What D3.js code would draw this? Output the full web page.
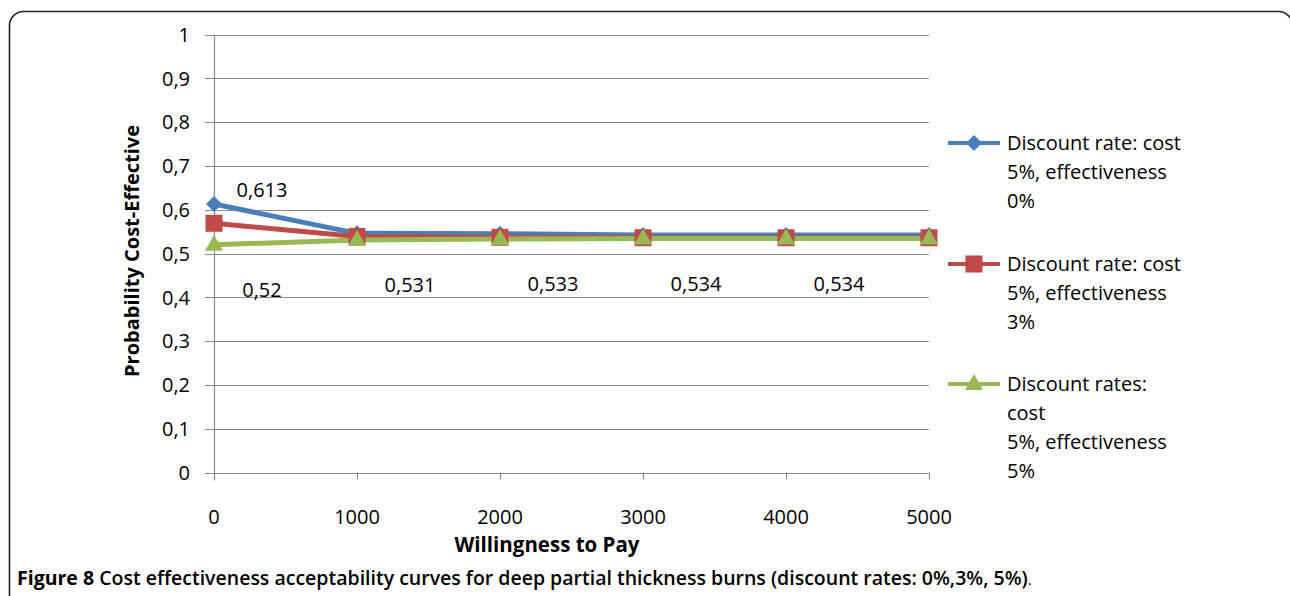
<!DOCTYPE html>
<html>
<head>
<meta charset="utf-8">
<script src="https://cdn.jsdelivr.net/npm/d3@7"></script>
<style>
  html, body { margin: 0; padding: 0; background: #fff; }
  svg { display: block; }
  text { font-family: "Open Sans", "DejaVu Sans", sans-serif; fill: #000; }
</style>
</head>
<body>
<svg id="chart" width="1290" height="596"></svg>
<script>
// Willingness-to-pay thresholds (x categories)
const wtp = [0, 1000, 2000, 3000, 4000, 5000];

// Probability cost-effective for each discounting scenario
const seriesNames = [
  ["Discount rate: cost", "5%, effectiveness", "0%"],
  ["Discount rate: cost", "5%, effectiveness", "3%"],
  ["Discount rates:", "cost", "5%, effectiveness", "5%"]
];
const eff0 = [0.613, 0.546, 0.545, 0.542, 0.542, 0.542];
const eff3 = [0.569, 0.539, 0.537, 0.536, 0.536, 0.536];
const eff5 = [0.52, 0.531, 0.533, 0.534, 0.534, 0.534];

// Which points carry a value label
const labelEff0 = [true, false, false, false, false, false];
const labelEff5 = [true, true, true, true, true, false];

const yTicks = [0, 0.1, 0.2, 0.3, 0.4, 0.5, 0.6, 0.7, 0.8, 0.9, 1];

const colors = ["#4a7ebb", "#be4b48", "#98b954"];
const markers = ["diamond", "square", "triangle"];

const svg = d3.select("#chart");

// Rounded outer frame
svg.append("rect")
  .attr("x", 9.5).attr("y", 11.5)
  .attr("width", 1283).attr("height", 640)
  .attr("rx", 14)
  .attr("fill", "none")
  .attr("stroke", "#222")
  .attr("stroke-width", 1.6);

const x = d3.scalePoint().domain(wtp).range([214, 929]);
const y = d3.scaleLinear().domain([0, 1]).range([472.5, 34.5]);

const locale = d3.formatLocale({ decimal: ",", thousands: ".", grouping: [3], currency: ["", ""] });
const fmtTick = v => locale.format(",")(+v.toFixed(1));
const fmtVal = v => locale.format(",")(v);

// Horizontal gridlines with left tick stubs
const grid = svg.append("g");
grid.selectAll("line")
  .data(yTicks)
  .join("line")
  .attr("x1", 205).attr("x2", 929)
  .attr("y1", d => Math.round(y(d)) + 0.5)
  .attr("y2", d => Math.round(y(d)) + 0.5)
  .attr("stroke", "#8c8c8c")
  .attr("stroke-width", 1.2);

// Y axis tick labels
svg.append("g").selectAll("text")
  .data(yTicks)
  .join("text")
  .attr("x", 190)
  .attr("y", d => y(d))
  .attr("dy", "0.36em")
  .attr("text-anchor", "end")
  .attr("font-size", 20)
  .text(d => fmtTick(d));

// Vertical axis line
svg.append("line")
  .attr("x1", 214.5).attr("x2", 214.5)
  .attr("y1", y(1)).attr("y2", y(0) + 8)
  .attr("stroke", "#8c8c8c").attr("stroke-width", 1.2);

// X axis tick marks below baseline
svg.append("g").selectAll("line")
  .data(wtp)
  .join("line")
  .attr("x1", d => x(d) + 0.5).attr("x2", d => x(d) + 0.5)
  .attr("y1", y(0)).attr("y2", y(0) + 7)
  .attr("stroke", "#8c8c8c").attr("stroke-width", 1.2);

// X tick labels
svg.append("g").selectAll("text")
  .data(wtp)
  .join("text")
  .attr("x", d => x(d))
  .attr("y", 517)
  .attr("dy", "0.36em")
  .attr("text-anchor", "middle")
  .attr("font-size", 20)
  .text(d => d);

// Axis titles
svg.append("text")
  .attr("transform", "translate(139,251) rotate(-90)")
  .attr("text-anchor", "middle")
  .attr("font-size", 20)
  .attr("font-weight", "bold")
  .text("Probability Cost-Effective");

svg.append("text")
  .attr("x", 547).attr("y", 545)
  .attr("dy", "0.36em")
  .attr("text-anchor", "middle")
  .attr("font-size", 20.5)
  .attr("font-weight", "bold")
  .text("Willingness to Pay");

// Marker shapes
function drawMarker(g, type, cx, cy, color) {
  if (type === "diamond") {
    g.append("path")
      .attr("d", `M${cx},${cy - 8}L${cx + 8},${cy}L${cx},${cy + 8}L${cx - 8},${cy}Z`)
      .attr("fill", color);
  } else if (type === "square") {
    g.append("rect")
      .attr("x", cx - 8.5).attr("y", cy - 8.5)
      .attr("width", 17).attr("height", 17)
      .attr("fill", color);
  } else {
    g.append("path")
      .attr("d", `M${cx},${cy - 10}L${cx + 9},${cy + 6}L${cx - 9},${cy + 6}Z`)
      .attr("fill", color);
  }
}

const allSeries = [eff0, eff3, eff5];
const line = d3.line().x((d, i) => x(wtp[i])).y(d => y(d));

const plot = svg.append("g");
allSeries.forEach((vals, s) => {
  plot.append("path")
    .datum(vals)
    .attr("d", line)
    .attr("fill", "none")
    .attr("stroke", colors[s])
    .attr("stroke-width", 5)
    .attr("stroke-linejoin", "round");
});
allSeries.forEach((vals, s) => {
  const g = plot.append("g");
  vals.forEach((v, i) => drawMarker(g, markers[s], x(wtp[i]), y(v), colors[s]));
});

// Value labels
const labels = svg.append("g");
eff0.forEach((v, i) => {
  if (!labelEff0[i]) return;
  labels.append("text")
    .attr("x", x(wtp[i]) + 48).attr("y", y(v) - 14)
    .attr("dy", "0.36em")
    .attr("text-anchor", "middle")
    .attr("font-size", 20)
    .text(fmtVal(v));
});
eff5.forEach((v, i) => {
  if (!labelEff5[i]) return;
  labels.append("text")
    .attr("x", x(wtp[i]) + (i === 0 ? 48 : 53)).attr("y", y(v) + 45)
    .attr("dy", "0.36em")
    .attr("text-anchor", "middle")
    .attr("font-size", 20)
    .text(fmtVal(v));
});

// Legend
const legendTop = [143, 264, 384];
const legend = svg.append("g");
seriesNames.forEach((lines, s) => {
  const ly = legendTop[s];
  legend.append("line")
    .attr("x1", 948).attr("x2", 1000)
    .attr("y1", ly).attr("y2", ly)
    .attr("stroke", colors[s]).attr("stroke-width", 4);
  drawMarker(legend, markers[s], 974, ly, colors[s]);
  lines.forEach((t, k) => {
    legend.append("text")
      .attr("x", 1007).attr("y", ly + k * 29)
      .attr("dy", "0.36em")
      .attr("font-size", 20)
      .text(t);
  });
});

// Caption
const cap = svg.append("text")
  .attr("x", 17).attr("y", 578)
  .attr("dy", "0.36em")
  .attr("font-size", 19.5);
cap.append("tspan").attr("font-weight", "bold").text("Figure 8 ");
cap.append("tspan").attr("font-weight", "600")
  .text("Cost effectiveness acceptability curves for deep partial thickness burns (discount rates: 0%,3%, 5%)");
cap.append("tspan").attr("font-size", 15).text(".");
</script>
</body>
</html>
